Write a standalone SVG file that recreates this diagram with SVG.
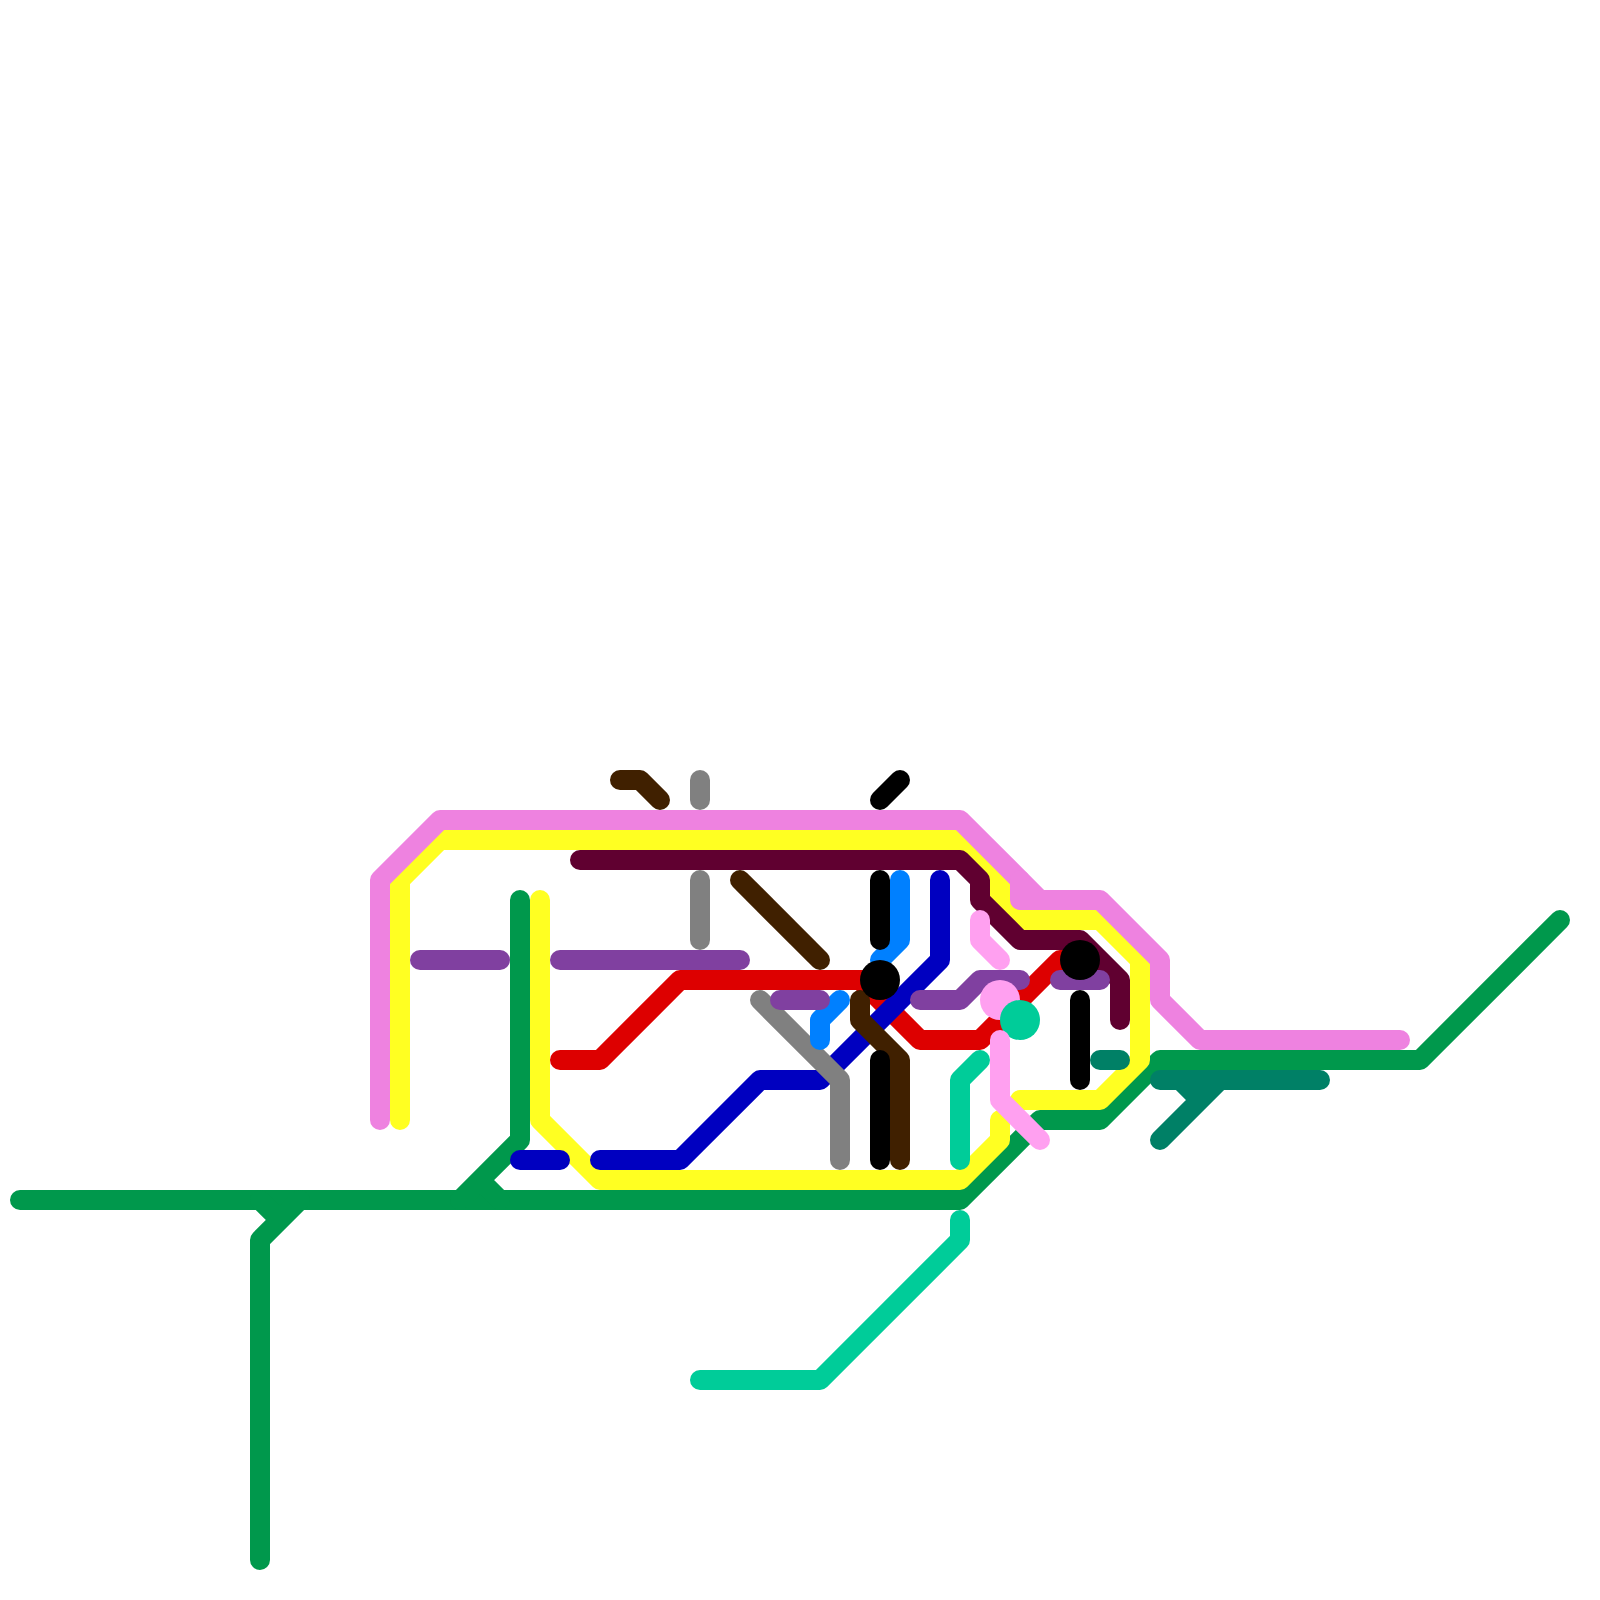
<svg xmlns="http://www.w3.org/2000/svg" width="1600" height="1600" viewBox="0 0 1600 1600">
<style>
path{fill:none;stroke-width:20;stroke-linecap:round;stroke-linejoin:round}
.green{stroke:#00984c}.yellow{stroke:#ffff22}.violet{stroke:#ee82e0}.teal{stroke:#008066}.red{stroke:#dd0000}.blue{stroke:#0000c0}.gray{stroke:#808080}.brown{stroke:#402000}.azure{stroke:#0080ff}.black{stroke:#000}.purple{stroke:#8040a0}.maroon{stroke:#600030}.mint{stroke:#00cc99}.lpink{stroke:#ffa0f0}
</style>
<rect width="1600" height="1600" fill="#fff"/>
<g id="connectors">
<path class="red" d="M560 1060H600L680 980H880L860 980L920 1040H980L1060 960H1080"/>
<path class="green" d="M20 1200H960L1040 1120H1100L1160 1060H1420L1560 920"/>
<path class="green" d="M260 1560V1240L300 1200M260 1200L280 1220"/>
<path class="green" d="M520 900V1140L460 1200M480 1180L500 1200"/>
<path class="teal" d="M1160 1080H1320M1160 1140L1220 1080M1180 1080L1200 1100"/>
<path class="yellow" d="M400 1120V880L440 840H960L1000 880V900L1020 920H1100L1140 960V1060L1100 1100H1020"/>
<path class="yellow" d="M540 900V1120L600 1180H960L1000 1140V1120"/>
<path class="teal" d="M1100 1060H1120"/>
<path class="violet" d="M380 1120V880L440 820H960L1040 900"/>
<path class="violet" d="M1020 880V900H1100L1160 960V1000L1200 1040H1400"/>
<path class="maroon" d="M580 860H960L980 880V900L1020 940H1080L1120 980V1020"/>
<path class="blue" d="M520 1160H560"/>
<path class="blue" d="M600 1160H680L760 1080H820L940 960V880"/>
<path class="gray" d="M700 780V800"/>
<path class="gray" d="M700 880V940"/>
<path class="gray" d="M760 1000L840 1080V1160"/>
<path class="brown" d="M620 780H640L660 800"/>
<path class="brown" d="M740 880L820 960"/>
<path class="brown" d="M860 1000V1020L900 1060V1160"/>
<path class="azure" d="M880 960L900 940V880"/>
<path class="azure" d="M840 1000L820 1020V1040"/>
<path class="black" d="M880 880V940"/>
<path class="black" d="M880 1060V1160"/>
<path class="black" d="M880 800L900 780"/>
<path class="black" d="M1080 1000V1080"/>
<path class="purple" d="M420 960H500"/>
<path class="purple" d="M560 960H740"/>
<path class="purple" d="M780 1000H820"/>
<path class="purple" d="M920 1000H960L980 980H1020"/>
<path class="purple" d="M1060 980H1100"/>
<path class="mint" d="M960 1160V1080L980 1060"/>
<path class="mint" d="M960 1220V1240L820 1380H700"/>
</g>
<g id="node-black-1"><circle cx="880" cy="980" r="20" fill="#000"/></g>
<g id="node-black-2"><circle cx="1080" cy="960" r="20" fill="#000"/></g>
<g id="node-pink"><circle cx="1000" cy="1000" r="20" fill="#ffa0f0"/></g>
<g id="node-mint"><circle cx="1020" cy="1020" r="20" fill="#00cc99"/></g>
<g id="connectors-top">
<path class="lpink" d="M980 920V940L1000 960"/>
<path class="lpink" d="M1000 1040V1100L1040 1140"/>
</g>
</svg>
